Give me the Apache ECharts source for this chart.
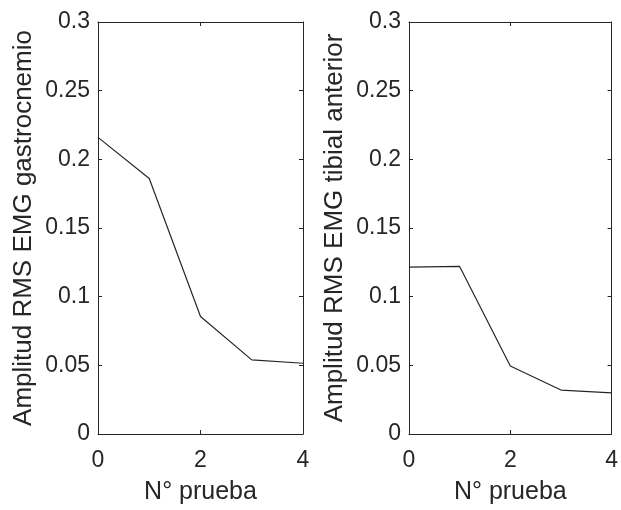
<!DOCTYPE html>
<html><head><meta charset="utf-8">
<script src="https://cdn.jsdelivr.net/npm/echarts@6/dist/echarts.min.js"></script>
<style>html,body{margin:0;padding:0;background:#fff}#c{width:621px;height:510px}</style>
</head><body><div id="c"></div>
<script>
const trials = [0, 1, 2, 3, 4];
const gastrocnemio = [0.216, 0.186, 0.0855, 0.054, 0.0515];
const tibialAnterior = [0.1215, 0.122, 0.0495, 0.032, 0.030];
const yLabels = ['Amplitud RMS EMG gastrocnemio', 'Amplitud RMS EMG tibial anterior'];
const xLabel = 'N° prueba';

const font = 'Liberation Sans, Arial, sans-serif';
const axisColor = '#262626';
const grids = [
  {left: 98, top: 22, width: 205, height: 417},
  {left: 409, top: 22, width: 206, height: 417}
];
const xAxes = [], yAxes = [];
grids.forEach((g, i) => {
  const common = {gridIndex: i, splitLine: {show: false},
    axisLine: {show: true, onZero: false, lineStyle: {color: axisColor, width: 1}},
    axisTick: {show: true, inside: true, length: 4, lineStyle: {color: axisColor}}};
  xAxes.push(Object.assign({}, common, {type: 'value', min: 0, max: 4, interval: 2, position: 'bottom',
    name: xLabel, nameLocation: 'middle', nameGap: 46,
    nameTextStyle: {fontFamily: font, fontSize: 25, color: axisColor},
    axisLabel: {fontFamily: font, fontSize: 23, color: axisColor, margin: 15}}));
  xAxes.push(Object.assign({}, common, {type: 'value', min: 0, max: 4, interval: 2, position: 'top',
    axisLabel: {show: false}}));
  yAxes.push(Object.assign({}, common, {type: 'value', min: 0, max: 0.3, interval: 0.05, position: 'left',
    name: yLabels[i], nameLocation: 'middle', nameGap: 61,
    nameTextStyle: {fontFamily: font, fontSize: 26, color: axisColor},
    axisLabel: {fontFamily: font, fontSize: 23, color: axisColor, margin: 8,
      formatter: v => String(+v.toFixed(2))}}));
  yAxes.push(Object.assign({}, common, {type: 'value', min: 0, max: 0.3, interval: 0.05, position: 'right',
    axisLabel: {show: false}}));
});
const chart = echarts.init(document.getElementById('c'), null, {renderer: 'canvas'});
chart.setOption({
  animation: false,
  backgroundColor: '#fff',
  grid: grids,
  xAxis: xAxes,
  yAxis: yAxes,
  series: [
    {type: 'line', xAxisIndex: 0, yAxisIndex: 0, data: trials.map((t, i) => [t, gastrocnemio[i]]),
      symbol: 'none', lineStyle: {color: '#262626', width: 1.2}},
    {type: 'line', xAxisIndex: 2, yAxisIndex: 2, data: trials.map((t, i) => [t, tibialAnterior[i]]),
      symbol: 'none', lineStyle: {color: '#262626', width: 1.2}}
  ]
});
</script></body></html>
